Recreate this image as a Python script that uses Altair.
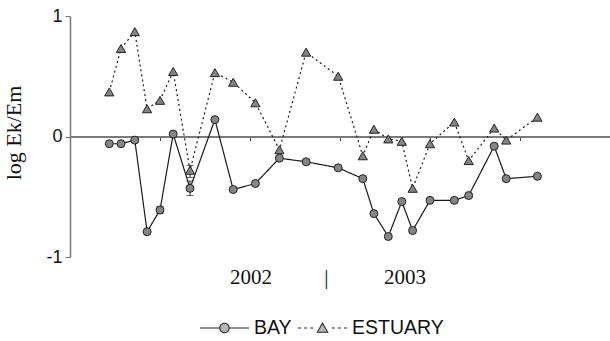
import altair as alt
import pandas as pd

# ---- data ----
months = [1.31, 1.70, 2.16, 2.57, 3.00, 3.44, 4.00, 4.83, 5.44, 6.18, 6.98, 7.87,
          8.94, 9.76, 10.13, 10.61, 11.06, 11.42, 12.00, 12.81, 13.29, 14.14, 14.54, 15.58]
bay = [-0.06, -0.06, -0.03, -0.79, -0.61, 0.02, -0.43, 0.14, -0.44, -0.39, -0.18, -0.21,
       -0.26, -0.35, -0.64, -0.83, -0.54, -0.78, -0.53, -0.53, -0.49, -0.08, -0.35, -0.33]
estuary = [0.37, 0.73, 0.87, 0.23, 0.30, 0.54, -0.28, 0.53, 0.45, 0.28, -0.11, 0.70,
           0.50, -0.16, 0.06, -0.02, -0.04, -0.43, -0.06, 0.12, -0.20, 0.07, -0.03, 0.16]
series_names = ["BAY", "ESTUARY"]

err_months = [3.00, 4.00, 4.00]
err_series = ["BAY", "BAY", "ESTUARY"]
err_low = [-0.64, -0.49, -0.34]
err_high = [-0.58, -0.37, -0.24]

month_ticks = [3, 6, 9, 12, 15]
y_ticks = [-1, 0, 1]
year_ticks = [6.02, 8.53, 11.15]
year_labels = ["2002", "|", "2003"]

df = pd.DataFrame({
    "month": months + months,
    "value": bay + estuary,
    "series": ["BAY"] * len(bay) + ["ESTUARY"] * len(estuary),
})
err = pd.DataFrame({"month": err_months, "series": err_series,
                    "low": err_low, "high": err_high})

W, H = 540, 241
xscale = alt.Scale(domain=[0, 18], nice=False, zero=False)
yscale = alt.Scale(domain=[-1, 1], nice=False, zero=False)

yaxis = alt.Axis(
    values=y_ticks,
    labelExpr="datum.value < 0 ? '-' + (-datum.value) : '' + datum.value",
    grid=False, tickSize=5, tickColor="#777777", domainColor="#777777", domainWidth=1.5,
    labelFont="Liberation Sans", labelFontSize=18, labelColor="#111111", labelPadding=3,
    title="log Ek/Em", titleFont="Liberation Serif", titleFontSize=22,
    titleFontWeight="normal", titleColor="#111111", titleAngle=270,
    titleBaseline="bottom", titleAlign="center", titleX=-45, titleY=116.5,
)
main_xaxis = alt.Axis(
    orient="bottom", offset=-H / 2, values=month_ticks, labels=False, title=None,
    grid=False, domainColor="#7a7a7a", domainWidth=2, tickColor="#444444",
    tickSize=4, tickWidth=1,
)
label_expr = ("[" + ",".join("'%s'" % l for l in year_labels) + "][indexof(["
              + ",".join(str(t) for t in year_ticks) + "], datum.value)]")
year_axis = alt.Axis(
    orient="bottom", offset=0, values=year_ticks, labelExpr=label_expr,
    domain=False, ticks=False, tickSize=0, grid=False, title=None,
    labelFont="Liberation Serif", labelFontSize=21, labelColor="#111111",
    labelBaseline="alphabetic", labelPadding=26, labelFlush=False, labelOverlap=False,
)


# ---- legend glyphs (unit box -1..1), drawn with fills only ----
def rect(x0, x1, t=0.022):
    return "M%.3f,%.3fL%.3f,%.3fL%.3f,%.3fL%.3f,%.3fZ" % (x0, -t, x1, -t, x1, t, x0, t)


def circle(r):
    return "M%.3f,0A%.3f,%.3f,0,1,1,%.3f,0A%.3f,%.3f,0,1,1,%.3f,0Z" % (-r, r, r, r, r, r, -r)


def tri(top, half, base):
    return "M0,%.3fL%.3f,%.3fL%.3f,%.3fZ" % (top, half, base, -half, base)


dash_starts = [-1.0, -0.75, -0.5, 0.38, 0.63, 0.88]
bay_dark = rect(-1, -0.215) + rect(0.215, 1) + circle(0.215)
bay_light = circle(0.172)
est_dark = "".join(rect(s, s + 0.12) for s in dash_starts) + tri(-0.24, 0.25, 0.19)
est_light = tri(-0.155, 0.188, 0.15)

legend_common = dict(
    title=None, orient="none", legendX=130, legendY=287.5,
    direction="horizontal", symbolSize=2401, symbolOpacity=1, symbolStrokeWidth=0,
    labelFont="Liberation Sans", labelFontSize=19.5, labelColor="#111111",
    labelOffset=5, columnPadding=6, padding=0,
)

rules = alt.Chart(err).mark_rule(color="#222222", strokeWidth=1).encode(
    x=alt.X("month:Q", scale=xscale, axis=year_axis),
    y=alt.Y("low:Q", scale=yscale, axis=yaxis),
    y2="high:Q",
)
caps = alt.Chart(err).transform_fold(["low", "high"], as_=["end", "endval"]).mark_tick(
    orient="horizontal", size=7, thickness=1, color="#222222"
).encode(
    x=alt.X("month:Q", scale=xscale, axis=None),
    y=alt.Y("endval:Q", scale=yscale, axis=yaxis),
)
lines = alt.Chart(df).mark_line(strokeWidth=1.2, color="#1a1a1a").encode(
    x=alt.X("month:Q", scale=xscale, axis=main_xaxis),
    y=alt.Y("value:Q", scale=yscale, axis=yaxis),
    strokeDash=alt.StrokeDash("series:N", scale=alt.Scale(domain=series_names,
                              range=[[1, 0], [2, 3]]), legend=None),
    detail="series:N",
)
points = alt.Chart(df).mark_point(
    fill="#858585", stroke="#222222", strokeWidth=1, opacity=1, fillOpacity=1
).encode(
    x=alt.X("month:Q", scale=xscale, axis=None),
    y=alt.Y("value:Q", scale=yscale, axis=yaxis),
    shape=alt.Shape("series:N", scale=alt.Scale(domain=series_names,
                    range=["circle", "triangle-up"]), legend=None),
    size=alt.Size("series:O", scale=alt.Scale(domain=series_names, range=[64, 85]),
                  legend=None),
)
legend_dark = alt.Chart(df).mark_point(opacity=0, fill="#222222", strokeWidth=0).encode(
    x=alt.X("month:Q", scale=xscale, axis=None),
    y=alt.Y("value:Q", scale=yscale, axis=yaxis),
    shape=alt.Shape("series:N", scale=alt.Scale(domain=series_names,
                    range=[bay_dark, est_dark]),
                    legend=alt.Legend(symbolFillColor="#222222", **legend_common)),
)
legend_light = alt.Chart(df).mark_point(opacity=0, fill="#b5b5b5", strokeWidth=0).encode(
    x=alt.X("month:Q", scale=xscale, axis=None),
    y=alt.Y("value:Q", scale=yscale, axis=yaxis),
    shape=alt.Shape("series:N", scale=alt.Scale(domain=series_names,
                    range=[bay_light, est_light]),
                    legend=alt.Legend(symbolFillColor="#b5b5b5", labelOpacity=0,
                                      **legend_common)),
)

chart = alt.layer(rules, caps, lines, points, legend_dark, legend_light).resolve_scale(
    shape="independent"
).resolve_axis(x="independent").properties(
    width=W, height=H,
    autosize=alt.AutoSizeParams(type="none"),
    padding={"left": 70, "top": 16, "right": 0, "bottom": 84},
).configure_view(stroke=None)

chart.save("out.html", embed_options={"renderer": "svg", "actions": False})
